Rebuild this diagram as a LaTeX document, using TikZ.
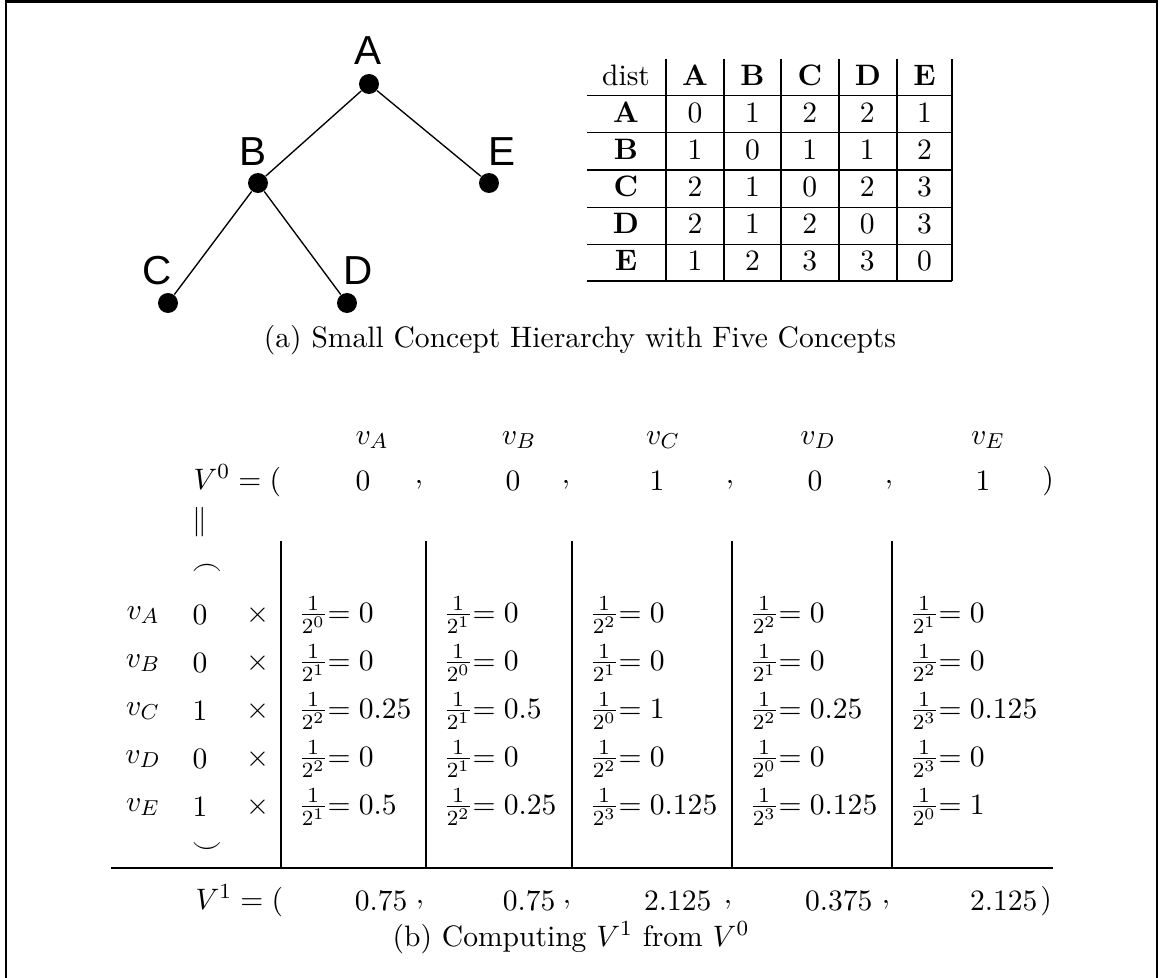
\documentclass[tikz,border=0pt]{standalone}
\usepackage{amsmath,amssymb}
\usepackage{fontspec}
\newfontfamily\treefont{Liberation Sans}
\usetikzlibrary{positioning}

\begin{document}
\begin{tikzpicture}[
  x=0.3704pt, y=-0.3704pt,
  font=\fontsize{10.95}{13.6}\selectfont,
  dot/.style={circle, fill, inner sep=0pt, minimum size=7.4pt},
  lbl/.style={font=\fontsize{15}{17}\selectfont\treefont, inner sep=0pt},
  branch/.style={line width=0.5pt},
  cell/.style={inner sep=0pt},
  frame/.style={line width=0.8pt}
]
  \useasboundingbox (0,0) rectangle (1161,978);
  \draw[frame] (6,978) -- (6,1.5) -- (1157,1.5) -- (1157,978);

  % (a) the hierarchy
  \node[dot] (dA) at (369,84)  {};
  \node[dot] (dB) at (258,183) {};
  \node[dot] (dE) at (489,183) {};
  \node[dot] (dC) at (168,303) {};
  \node[dot] (dD) at (347,303) {};
  \node[lbl] (lA) at (368,51)  {A};
  \node[lbl] (lB) at (253,152) {B};
  \node[lbl] (lE) at (502,152) {E};
  \node[lbl] (lC) at (157,271) {C};
  \node[lbl] (lD) at (358,271) {D};
  \draw[branch] (dA) -- (dB);
  \draw[branch] (dA) -- (dE);
  \draw[branch] (dB) -- (dC);
  \draw[branch] (dB) -- (dD);

  % (a) the distance table
  \node[cell, anchor=base] (dist) at (626,86) {dist};
  \foreach \c/\x in {A/695,B/752.5,C/810,D/868,E/924.5}
    \node[cell, anchor=base] (t\c) at (\x,86) {\textbf{\c}};
  \foreach \r/\vals [count=\i] in {
      A/{0,1,2,2,1}, B/{1,0,1,1,2}, C/{2,1,0,2,3},
      D/{2,1,2,0,3}, E/{1,2,3,3,0}} {
    \node[cell, anchor=base] (s\r) at (626,86+37*\i) {\textbf{\r}};
    \foreach \v [count=\j] in \vals
      \node[cell, anchor=base] (d\r\j) at (695+57.4*\j-57.4,86+37*\i) {\v};
  }
  \foreach \y in {95.7,132.7,170,207.3,244.3,281}
    \draw (587,\y) -- (952,\y);
  \foreach \x in {666,724,781,839,897,952}
    \draw (\x,59) -- (\x,281);

  \node (capa) at (580,340) {(a) Small Concept Hierarchy with Five Concepts};

  % (b) header and V^0
  \foreach \c/\x in {A/372,B/519,C/663,D/818,E/988}
    \node[cell] (h\c) at (\x,440) {$v_{\c}$};
  \node[cell, anchor=west] (vzero) at (193,481) {$V^0 = ($};
  \foreach \v/\x [count=\k] in {0/363,0/513,1/657,0/815,1/983}
    \node[cell] (z\k) at (\x,481) {$\v$};
  \foreach \x [count=\k] in {419,566,730,889}
    \node[cell] (zc\k) at (\x,485) {$,$};
  \node[cell] (zend) at (1048,481) {$)$};
  \node[cell] (par) at (200,522) {$\|$};
  \node[cell] (frn) at (207,570) {$\frown$};

  % (b) rows
  \foreach \r/\v [count=\i] in {A/0,B/0,C/1,D/0,E/1} {
    \node[cell] (r\r) at (143,567+48*\i) {$v_{\r}$};
    \node[cell] (w\r) at (200,567+48*\i) {$\v$};
    \node[cell] (x\r) at (258,567+48*\i) {$\times$};
  }
  \foreach \cx/\cells [count=\j] in {
      298/{0/0,1/0,2/0.25,2/0,1/0.5},
      443/{1/0,0/0,1/0.5,1/0,2/0.25},
      589/{2/0,1/0,0/1,2/0,3/0.125},
      749/{2/0,1/0,2/0.25,0/0,3/0.125},
      909/{1/0,2/0,3/0.125,3/0,0/1}}
    \foreach \e/\w [count=\i] in \cells
      \node[cell, anchor=west] (m\i\j) at (\cx,567+48*\i)
        {$\frac{1}{2^{\e}}{=}\;\w$};
  \foreach \x in {281,426,572,732,892}
    \draw (\x,541) -- (\x,868);
  \node[cell] (smi) at (207,848) {$\smile$};
  \draw (111,868) -- (1053,868);

  % (b) V^1
  \node[cell, anchor=west] (vone) at (195,901) {$V^1 = ($};
  \foreach \v/\x [count=\k] in {0.75/408,0.75/556,2.125/712,0.375/873,2.125/1038}
    \node[cell, anchor=east] (o\k) at (\x,901) {$\v$};
  \foreach \x [count=\k] in {420,567,728,886}
    \node[cell] (oc\k) at (\x,905) {$,$};
  \node[cell] (oend) at (1046,901) {$)$};

  \node (capb) at (571,938) {(b) Computing $V^1$ from $V^0$};
\end{tikzpicture}
\end{document}
